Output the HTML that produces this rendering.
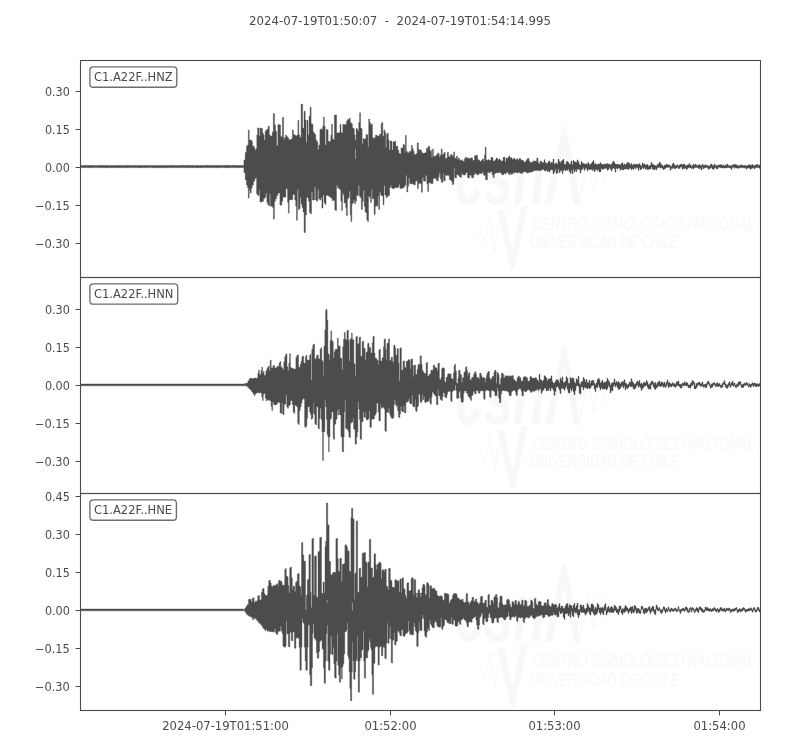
<!DOCTYPE html>
<html lang="en"><head><meta charset="utf-8"><title>C1.A22F seismogram</title>
<style>html,body{margin:0;padding:0;background:#fff}svg{display:block}text{font-family:"DejaVu Sans","Liberation Sans",sans-serif;font-size:11.6px;fill:#4a4a4a}.wm text{font-family:"Liberation Sans",sans-serif;font-style:italic;fill:#f8f8f8}.wmb{font-size:83px;font-weight:bold}.wmt{font-size:17.5px}</style></head><body>
<svg width="800" height="750" viewBox="0 0 800 750">
<rect width="800" height="750" fill="#fff"/>
<text x="400" y="24.8" text-anchor="middle" style="font-size:11.75px">2024-07-19T01:50:07  -  2024-07-19T01:54:14.995</text>
<g class="wm" transform="translate(0,0)" fill="#f8f8f8" stroke="#f8f8f8">
<text class="wmb" x="455" y="203.5" textLength="90" lengthAdjust="spacingAndGlyphs" stroke="none">csn</text>
<path d="M545 204L563 126L566 126L581 205L574 205L564.5 150L552 204Z" stroke="none"/>
<path d="M579 203L588 160L594 192L600 158L606 185" fill="none" stroke-width="1.4"/>
<path d="M477 237L481 231L485 243L490 214L495 252L500 212" fill="none" stroke-width="1.2"/>
<path d="M497 210L511 270L514 270L528 206L521 206L512.5 250L504 210Z" stroke="none"/>
<text class="wmt" x="532.5" y="229.8" textLength="222" lengthAdjust="spacingAndGlyphs" stroke="none">CENTRO SISMOLÓGICO NACIONAL</text>
<text class="wmt" x="529" y="248.2" textLength="150" lengthAdjust="spacingAndGlyphs" stroke="none">UNIVERSIDAD DE CHILE</text>
</g>
<path d="M80.5 166.6V165.6H81.5V165.4H82.5V165.5H83.5V165.4H84.5V165.6H85.5V165.4H86.5V165.4H87.5V165.5H88.5V165.5H89.5V165.3H90.5V165.6H91.5V165.3H92.5V165.5H93.5V165.6H94.5V165.5H95.5V165.5H96.5V165.5H97.5V165.5H98.5V165.4H99.5V165.4H100.5V165.3H101.5V165.6H102.5V165.4H103.5V165.3H104.5V165.4H105.5V165.5H106.5V165.3H107.5V165.5H108.5V165.6H109.5V165.4H110.5V165.6H111.5V165.4H112.5V165.5H113.5V165.5H114.5V165.5H115.5V165.5H116.5V165.6H117.5V165.3H118.5V165.5H119.5V165.5H120.5V165.4H121.5V165.4H122.5V165.5H123.5V165.4H124.5V165.5H125.5V165.3H126.5V165.4H127.5V165.3H128.5V165.4H129.5V165.4H130.5V165.6H131.5V165.4H132.5V165.5H133.5V165.5H134.5V165.4H135.5V165.4H136.5V165.6H137.5V165.5H138.5V165.4H139.5V165.4H140.5V165.5H141.5V165.4H142.5V165.6H143.5V165.4H144.5V165.6H145.5V165.5H146.5V165.6H147.5V165.6H148.5V165.4H149.5V165.5H150.5V165.6H151.5V165.5H152.5V165.6H153.5V165.5H154.5V165.4H155.5V165.6H156.5V165.6H157.5V165.6H158.5V165.4H159.5V165.5H160.5V165.4H161.5V165.5H162.5V165.5H163.5V165.5H164.5V165.6H165.5V165.3H166.5V165.5H167.5V165.5H168.5V165.4H169.5V165.5H170.5V165.3H171.5V165.4H172.5V165.4H173.5V165.4H174.5V165.4H175.5V165.5H176.5V165.5H177.5V165.5H178.5V165.6H179.5V165.5H180.5V165.5H181.5V165.3H182.5V165.5H183.5V165.3H184.5V165.5H185.5V165.4H186.5V165.3H187.5V165.3H188.5V165.5H189.5V165.5H190.5V165.6H191.5V165.3H192.5V165.4H193.5V165.4H194.5V165.5H195.5V165.4H196.5V165.3H197.5V165.6H198.5V165.6H199.5V165.6H200.5V165.4H201.5V165.5H202.5V165.4H203.5V165.4H204.5V165.6H205.5V165.3H206.5V165.3H207.5V165.5H208.5V165.4H209.5V165.4H210.5V165.6H211.5V165.6H212.5V165.3H213.5V165.6H214.5V165.5H215.5V165.6H216.5V165.5H217.5V165.3H218.5V165.5H219.5V165.6H220.5V165.6H221.5V165.3H222.5V165.4H223.5V165.5H224.5V165.3H225.5V165.3H226.5V165.5H227.5V165.3H228.5V165.4H229.5V165.5H230.5V165.5H231.5V165.6H232.5V165.3H233.5V165.4H234.5V165.3H235.5V165.5H236.5V165.5H237.5V165.3H238.5V165.5H239.5V165.4H240.5V165.5H241.5V165.5H242.5V165.4H243.9V160.0H245.2V152.5H246.4V146.2H247.4V145.0H248.3V130.0H249.2V140.0H250.4V140.0H251.5V141.2H252.4V146.2H253.4V146.0H254.3V148.8H255.1V151.0H255.8V148.8H256.8V135.0H257.6V127.9H258.4V128.1H259.2V136.2H260.1V128.1H261.3V128.5H262.4V133.1H263.3V135.0H264.1V140.0H265.1V131.2H266.1V130.0H267.1V129.0H268.2V126.0H269.3V135.0H270.2V136.2H271.3V136.0H272.2V131.9H273.3V113.5H274.5V125.0H275.5V131.2H276.7V145.6H277.9V124.4H279.2V125.0H280.5V136.2H281.4V136.9H282.4V117.5H283.6V139.4H284.6V137.5H285.6V135.0H286.5V136.5H287.5V137.5H288.5V139.5H289.5V140.0H290.5V139.5H291.4V138.8H292.4V130.0H293.4V134.4H294.3V135.0H295.2V135.6H296.2V136.0H297.1V135.0H297.9V120.2H298.8V135.0H299.8V137.5H301.1V104.1H302.6V128.1H304.0V111.2H305.2V120.0H306.1V142.5H307.0V120.2H308.0V135.0H309.0V116.2H310.1V107.2H311.1V123.8H312.1V124.4H313.0V131.9H314.0V133.8H314.9V134.4H315.8V140.0H316.8V141.9H317.8V149.4H318.8V145.0H319.9V129.4H320.9V128.8H321.8V130.0H322.7V126.2H323.5V116.9H324.3V126.2H325.1V145.0H326.2V129.4H327.2V130.0H328.1V141.2H329.0V141.9H329.9V141.2H330.8V135.0H331.6V124.1H332.4V138.8H333.3V140.0H334.4V115.0H335.5V115.0H336.6V133.1H337.9V133.1H339.0V132.5H340.0V124.4H341.0V132.5H341.9V133.1H342.8V124.4H343.9V124.4H345.2V124.8H346.5V121.2H347.4V119.4H348.4V120.0H349.3V118.1H350.2V122.5H351.3V123.8H352.4V128.1H353.4V128.8H354.3V135.0H355.1V140.0H356.1V128.5H357.1V129.4H357.9V131.2H358.7V122.5H359.6V112.8H360.5V128.1H361.4V128.8H362.1V143.8H363.0V138.5H364.0V139.4H365.0V138.8H366.0V134.4H367.0V135.0H367.9V146.9H368.7V119.0H369.6V122.5H370.5V125.0H371.5V124.0H372.4V137.5H373.4V139.0H374.4V137.5H375.5V135.0H376.5V135.6H377.5V136.2H378.5V136.0H379.5V134.0H380.4V134.4H381.1V123.8H381.9V122.5H382.8V136.2H383.9V130.0H384.9V132.5H385.7V147.5H386.5V134.4H387.4V133.1H388.3V140.0H389.1V150.0H390.1V140.9H391.1V141.2H392.0V150.0H393.0V141.9H394.0V141.5H394.9V141.2H395.8V146.2H396.8V146.0H397.8V150.0H398.8V153.5H399.8V153.8H401.0V148.1H402.1V148.1H403.1V144.4H404.0V145.0H404.8V152.5H405.4V135.4H406.3V151.2H407.2V152.5H408.2V153.1H409.2V151.5H410.2V151.2H411.4V145.2H412.4V148.8H413.3V151.2H414.1V154.4H415.0V154.4H416.1V153.8H417.2V142.9H418.4V149.4H419.4V150.0H420.5V150.0H421.5V152.5H422.5V153.5H423.6V153.1H424.6V153.1H425.6V152.5H426.4V148.1H427.2V148.8H428.1V146.0H429.1V146.9H429.9V151.2H430.8V150.6H431.6V157.5H432.5V149.1H433.4V156.2H434.4V156.5H435.5V155.6H436.5V155.0H437.4V153.1H438.3V153.5H439.2V156.9H440.2V155.0H441.2V149.1H442.2V155.0H443.2V153.8H444.2V152.5H445.2V158.8H446.2V158.1H447.3V152.2H448.4V156.2H449.4V156.9H450.5V154.4H451.5V155.0H452.5V156.2H453.6V151.9H454.6V158.1H455.5V158.5H456.5V156.0H457.5V159.4H458.5V158.1H459.5V160.0H460.5V161.0H461.5V159.8H462.5V161.2H463.5V161.2H464.5V158.5H465.5V157.2H466.5V158.5H467.5V157.8H468.5V158.8H469.5V158.5H470.5V158.1H471.5V157.8H472.5V160.6H473.5V160.0H474.5V155.6H475.5V156.0H476.5V155.0H477.5V159.4H478.5V160.0H479.5V161.2H480.5V161.5H481.5V160.0H482.5V159.0H483.5V161.2H484.4V155.0H485.2V147.2H486.1V160.0H487.0V160.6H488.0V159.8H489.0V160.0H490.0V160.6H491.0V157.2H492.0V157.8H493.0V161.2H494.0V161.0H495.0V160.0H496.0V158.1H497.0V158.5H498.0V160.6H499.0V159.0H500.0V160.0H501.0V161.5H502.0V161.0H503.0V157.5H504.0V157.2H505.0V161.9H506.0V158.1H507.0V158.8H508.0V156.9H509.0V156.2H510.0V158.1H511.0V157.8H512.0V159.4H513.0V158.8H514.0V158.5H515.0V160.0H516.0V159.4H517.0V158.8H518.0V160.6H519.0V158.5H520.0V158.8H521.0V160.6H522.0V160.0H523.0V161.2H524.0V162.2H525.0V161.9H526.0V160.6H527.0V158.8H528.0V158.5H529.0V161.2H530.0V162.5H531.0V162.8H532.0V161.9H533.0V161.2H534.1V161.0H535.4V161.2H536.8V158.1H538.0V162.8H539.0V164.0H540.0V161.0H541.0V161.8H542.0V162.6H543.0V162.8H544.0V159.7H545.0V162.4H546.0V163.5H547.0V163.3H548.0V161.7H549.0V161.1H550.0V163.2H551.0V162.6H552.0V162.4H553.0V159.0H554.0V164.3H555.0V163.6H556.0V163.1H557.0V164.5H558.0V159.3H559.0V161.5H560.0V163.0H561.0V161.1H562.0V160.7H563.0V159.3H564.0V164.3H565.0V164.6H566.0V162.0H567.0V161.4H568.0V162.7H569.0V164.5H570.0V163.8H571.0V161.1H572.0V165.0H573.0V160.6H574.0V161.9H575.0V162.0H576.0V162.6H577.0V159.9H578.0V161.7H579.0V164.6H580.0V165.1H581.0V161.4H582.0V163.3H583.0V163.4H584.0V163.9H585.0V164.2H586.0V163.7H587.0V164.2H588.0V162.5H589.0V164.5H590.0V164.4H591.0V163.6H592.0V161.9H593.0V160.6H594.0V164.3H595.0V163.5H596.0V164.6H597.0V164.6H598.0V164.0H599.0V164.0H600.0V162.8H601.0V163.9H602.0V164.5H603.0V164.8H604.0V163.9H605.0V164.0H606.0V164.2H607.0V163.5H608.0V164.3H609.0V164.1H610.0V165.3H611.0V164.2H612.0V162.8H613.0V161.1H614.0V162.8H615.0V164.1H616.0V164.6H617.0V164.1H618.0V164.8H619.0V164.5H620.0V164.8H621.0V163.6H622.0V162.8H623.0V164.9H624.0V164.1H625.0V164.7H626.0V164.0H627.0V162.2H628.0V163.0H629.0V163.2H630.0V165.0H631.0V163.6H632.0V165.2H633.0V164.3H634.0V164.4H635.0V164.3H636.0V164.2H637.0V164.2H638.0V164.8H639.0V163.7H640.0V165.2H641.0V166.2H642.0V163.0H643.0V164.3H644.0V163.9H645.0V164.9H646.0V165.1H647.0V164.5H648.0V166.2H649.0V165.8H650.0V165.1H651.0V162.6H652.0V164.3H653.0V164.5H654.0V165.5H655.0V165.5H656.0V165.9H657.0V164.2H658.0V164.4H659.0V162.2H660.0V162.9H661.0V164.7H662.0V165.5H663.0V166.4H664.0V165.3H665.0V165.0H666.0V164.1H667.0V164.9H668.0V164.8H669.0V165.1H670.0V165.9H671.0V166.4H672.0V164.1H673.0V163.1H674.0V165.0H675.0V165.6H676.0V165.5H677.0V164.7H678.0V166.2H679.0V164.9H680.0V164.4H681.0V164.0H682.0V165.0H683.0V164.1H684.0V164.2H685.0V165.5H686.0V165.5H687.0V165.1H688.0V164.7H689.0V163.6H690.0V165.1H691.0V166.2H692.0V165.5H693.0V164.3H694.0V165.6H695.0V164.1H696.0V165.3H697.0V165.4H698.0V165.0H699.0V164.7H700.0V165.5H701.0V165.8H702.0V164.3H703.0V165.2H704.0V165.4H705.0V164.7H706.0V165.3H707.0V165.5H708.0V165.9H709.0V166.2H710.0V164.5H711.0V164.1H712.0V165.3H713.0V165.8H714.0V164.1H715.0V165.4H716.0V165.5H717.0V165.6H718.0V164.9H719.0V165.1H720.0V164.8H721.0V164.7H722.0V165.8H723.0V164.9H724.0V165.9H725.0V165.2H726.0V165.0H727.0V164.0H728.0V165.4H729.0V165.7H730.0V165.7H731.0V165.6H732.0V165.2H733.0V164.6H734.0V164.4H735.0V164.4H736.0V165.0H737.0V165.2H738.0V166.1H739.0V165.7H740.0V165.0H741.0V165.1H742.0V165.2H743.0V165.6H744.0V165.5H745.0V165.2H746.0V166.1H747.0V165.8H748.0V164.7H749.0V165.1H750.0V165.0H751.0V165.2H752.0V164.5H753.0V165.5H754.0V165.7H755.0V164.9H756.0V164.9H757.0V164.3H758.0V165.5H759.0V165.1H760.5V166.6V168.3H759.0V167.7H758.0V167.5H757.0V167.4H756.0V167.7H755.0V168.9H754.0V167.7H753.0V168.1H752.0V168.8H751.0V169.1H750.0V168.2H749.0V168.0H748.0V168.0H747.0V169.2H746.0V167.4H745.0V168.1H744.0V167.8H743.0V167.6H742.0V167.9H741.0V167.2H740.0V167.9H739.0V168.3H738.0V168.1H737.0V168.1H736.0V167.6H735.0V168.2H734.0V167.1H733.0V167.5H732.0V169.5H731.0V167.9H730.0V168.0H729.0V167.6H728.0V167.7H727.0V167.8H726.0V167.9H725.0V168.1H724.0V167.7H723.0V168.1H722.0V167.9H721.0V167.5H720.0V167.3H719.0V167.2H718.0V169.1H717.0V168.4H716.0V167.6H715.0V168.2H714.0V169.2H713.0V168.9H712.0V167.5H711.0V167.9H710.0V168.8H709.0V169.2H708.0V167.7H707.0V167.6H706.0V167.5H705.0V167.9H704.0V168.8H703.0V166.9H702.0V169.9H701.0V168.2H700.0V168.5H699.0V168.3H698.0V167.6H697.0V167.5H696.0V167.4H695.0V167.8H694.0V169.0H693.0V167.8H692.0V168.4H691.0V167.9H690.0V167.2H689.0V167.7H688.0V168.7H687.0V169.5H686.0V167.7H685.0V168.7H684.0V168.2H683.0V169.2H682.0V167.0H681.0V167.1H680.0V168.5H679.0V168.4H678.0V167.3H677.0V167.9H676.0V168.6H675.0V168.6H674.0V167.8H673.0V168.4H672.0V168.6H671.0V170.3H670.0V167.3H669.0V167.3H668.0V167.4H667.0V167.4H666.0V168.2H665.0V168.9H664.0V169.7H663.0V168.2H662.0V167.7H661.0V168.1H660.0V167.0H659.0V167.5H658.0V167.8H657.0V169.8H656.0V168.8H655.0V169.7H654.0V169.6H653.0V169.0H652.0V166.9H651.0V169.0H650.0V168.9H649.0V169.6H648.0V169.6H647.0V168.5H646.0V169.2H645.0V167.2H644.0V168.5H643.0V167.6H642.0V168.9H641.0V169.7H640.0V167.7H639.0V170.3H638.0V167.8H637.0V167.4H636.0V168.8H635.0V167.6H634.0V169.3H633.0V168.7H632.0V169.7H631.0V168.1H630.0V168.6H629.0V169.3H628.0V169.2H627.0V168.8H626.0V168.9H625.0V169.0H624.0V169.9H623.0V169.7H622.0V168.9H621.0V170.3H620.0V168.3H619.0V168.1H618.0V168.9H617.0V168.0H616.0V172.0H615.0V168.5H614.0V168.0H613.0V168.8H612.0V170.9H611.0V168.7H610.0V167.8H609.0V169.4H608.0V170.2H607.0V168.2H606.0V168.5H605.0V168.2H604.0V169.2H603.0V169.2H602.0V168.2H601.0V171.8H600.0V171.9H599.0V169.6H598.0V170.6H597.0V168.9H596.0V170.3H595.0V171.4H594.0V169.0H593.0V170.4H592.0V169.2H591.0V169.6H590.0V169.6H589.0V169.2H588.0V170.8H587.0V168.3H586.0V168.4H585.0V170.3H584.0V167.8H583.0V169.2H582.0V169.7H581.0V173.0H580.0V169.4H579.0V169.3H578.0V169.0H577.0V171.6H576.0V170.1H575.0V172.1H574.0V169.5H573.0V173.7H572.0V170.2H571.0V173.3H570.0V171.6H569.0V168.9H568.0V170.4H567.0V169.5H566.0V171.0H565.0V169.6H564.0V170.4H563.0V173.5H562.0V170.2H561.0V171.0H560.0V172.6H559.0V169.0H558.0V172.8H557.0V173.6H556.0V169.1H555.0V172.1H554.0V173.8H553.0V170.1H552.0V169.5H551.0V170.3H550.0V172.1H549.0V170.5H548.0V171.6H547.0V169.7H546.0V171.0H545.0V170.5H544.0V169.3H543.0V169.5H542.0V169.9H541.0V170.5H540.0V170.8H539.0V170.5H538.0V170.2H536.8V170.6H535.4V170.6H534.2V171.0H533.2V171.2H532.2V171.9H531.2V172.2H530.2V171.9H529.2V172.5H528.2V173.1H527.2V172.5H526.2V171.9H525.2V171.2H524.2V171.9H523.2V172.5H522.2V173.8H521.2V173.1H520.2V172.5H519.2V171.9H518.2V173.1H517.2V172.5H516.2V171.9H515.2V173.1H514.2V172.5H513.2V173.8H512.2V174.4H511.2V173.1H510.2V174.8H509.2V173.8H508.2V171.9H507.2V172.5H506.2V173.8H505.2V173.1H504.2V174.4H503.2V175.0H502.2V173.8H501.2V173.1H500.2V171.9H499.2V172.5H498.2V173.1H497.2V172.5H496.2V173.1H495.2V173.8H494.2V177.8H493.2V175.0H492.2V171.9H491.2V171.2H490.2V173.1H489.2V171.9H488.3V172.5H487.4V180.0H486.5V179.4H485.5V175.6H484.5V175.0H483.5V172.5H482.5V173.1H481.5V173.8H480.5V173.1H479.5V173.8H478.5V174.8H477.5V174.4H476.5V173.8H475.5V173.1H474.5V175.0H473.5V178.1H472.5V177.5H471.5V175.2H470.5V175.0H469.5V178.1H468.5V177.5H467.5V172.5H466.5V173.1H465.5V175.0H464.5V175.0H463.5V174.4H462.5V173.8H461.5V177.2H460.5V176.9H459.5V175.6H458.5V174.8H457.5V174.4H456.5V178.1H455.5V177.5H454.6V168.1H453.9V183.8H453.2V184.8H452.3V181.2H451.2V180.0H450.2V179.4H449.3V175.6H448.4V175.0H447.3V175.6H446.2V175.0H445.2V181.0H444.4V180.6H443.6V173.1H442.9V182.5H442.1V181.9H441.2V178.8H440.2V173.1H439.2V176.9H438.3V181.0H437.4V180.6H436.5V178.8H435.4V178.1H434.1V178.8H433.0V183.5H432.1V183.8H431.0V182.5H429.8V183.1H428.6V191.5H427.7V183.8H426.8V175.6H425.6V181.2H424.4V181.2H423.4V177.5H422.4V192.2H421.4V183.8H420.5V183.1H419.4V183.8H418.4V188.5H417.4V180.6H416.5V181.2H415.4V184.8H414.1V184.4H412.9V183.5H411.6V183.8H410.5V183.8H409.6V178.1H408.7V186.2H407.8V191.9H406.8V175.6H405.9V185.0H404.8V186.9H403.5V188.1H402.2V188.5H401.0V188.5H399.9V184.4H398.9V187.2H397.6V187.8H396.4V187.2H395.1V188.1H393.9V188.8H392.6V188.1H391.5V185.6H390.5V187.5H389.6V195.6H388.5V196.2H387.2V197.5H386.0V195.0H384.9V185.6H384.0V204.8H383.1V196.2H382.4V195.6H381.5V195.0H380.6V191.9H379.6V209.4H378.7V196.2H377.9V206.2H377.1V205.6H376.2V206.2H375.2V214.4H374.1V198.8H373.1V198.8H372.2V189.4H371.4V202.5H370.5V197.5H369.5V196.2H368.5V221.5H367.6V220.0H366.8V212.5H365.9V212.2H365.1V206.2H364.2V190.6H363.3V201.2H362.4V209.4H361.3V197.5H360.2V196.2H359.3V185.6H358.4V195.6H357.5V195.0H356.5V201.2H355.5V203.8H354.6V200.0H353.7V202.5H352.8V203.8H351.8V221.5H350.9V215.0H350.2V191.2H349.3V197.5H348.4V198.8H347.4V215.6H346.4V207.5H345.7V202.5H344.9V203.1H344.1V195.0H343.3V193.1H342.4V210.6H341.6V201.2H340.8V189.4H339.8V188.8H338.5V187.5H337.4V185.0H336.5V210.6H335.7V210.0H334.8V200.6H333.5V200.6H332.2V198.1H331.0V197.2H329.8V196.2H328.5V195.0H327.2V195.6H326.0V204.4H325.0V202.5H324.0V195.0H323.0V208.1H321.9V197.5H320.9V200.0H319.8V198.8H318.7V189.4H317.8V201.2H316.6V200.0H315.6V186.9H314.6V200.0H313.5V200.0H312.4V191.9H311.5V213.8H310.5V212.5H309.4V201.2H308.4V197.5H307.4V197.5H306.5V215.0H305.4V232.5H304.1V211.9H303.0V207.5H302.0V203.8H301.0V197.5H300.1V208.8H299.2V209.4H298.3V189.4H297.4V220.2H296.5V206.2H295.7V200.0H294.8V194.4H293.8V194.4H292.8V199.8H291.6V199.4H290.4V200.0H289.2V213.1H288.4V202.5H287.6V188.8H286.8V188.8H285.9V196.9H284.8V197.2H283.8V196.9H282.8V201.2H281.8V205.2H280.8V205.0H279.9V193.1H279.0V193.1H277.9V195.6H276.6V198.8H275.5V201.2H274.4V219.0H273.4V207.5H272.5V206.2H271.4V206.2H270.4V193.8H269.6V205.6H268.8V205.0H267.8V202.5H266.8V193.1H265.9V196.9H264.8V198.8H263.5V201.2H262.2V201.9H261.0V201.9H259.9V190.0H259.2V195.6H258.4V195.0H257.5V193.8H256.6V177.5H255.8V178.5H254.8V181.2H253.5V185.0H252.2V188.1H251.2V193.1H250.2V190.0H249.2V198.1H248.3V187.5H247.4V185.0H246.4V180.0H245.2V172.5H243.9V167.5H242.5V167.5H241.5V167.5H240.5V167.7H239.5V167.7H238.5V167.6H237.5V167.7H236.5V167.6H235.5V167.6H234.5V167.7H233.5V167.6H232.5V167.6H231.5V167.6H230.5V167.7H229.5V167.7H228.5V167.7H227.5V167.7H226.5V167.5H225.5V167.8H224.5V167.5H223.5V167.6H222.5V167.6H221.5V167.5H220.5V167.7H219.5V167.6H218.5V167.6H217.5V167.8H216.5V167.8H215.5V167.7H214.5V167.5H213.5V167.6H212.5V167.6H211.5V167.8H210.5V167.5H209.5V167.5H208.5V167.7H207.5V167.6H206.5V167.7H205.5V167.6H204.5V167.6H203.5V167.6H202.5V167.7H201.5V167.7H200.5V167.7H199.5V167.5H198.5V167.7H197.5V167.8H196.5V167.7H195.5V167.6H194.5V167.6H193.5V167.7H192.5V167.6H191.5V167.5H190.5V167.7H189.5V167.8H188.5V167.7H187.5V167.6H186.5V167.7H185.5V167.6H184.5V167.7H183.5V167.6H182.5V167.5H181.5V167.7H180.5V167.6H179.5V167.7H178.5V167.6H177.5V167.7H176.5V167.6H175.5V167.6H174.5V167.8H173.5V167.5H172.5V167.8H171.5V167.5H170.5V167.5H169.5V167.6H168.5V167.8H167.5V167.7H166.5V167.7H165.5V167.6H164.5V167.7H163.5V167.7H162.5V167.7H161.5V167.6H160.5V167.8H159.5V167.7H158.5V167.7H157.5V167.7H156.5V167.5H155.5V167.7H154.5V167.6H153.5V167.8H152.5V167.6H151.5V167.6H150.5V167.6H149.5V167.6H148.5V167.6H147.5V167.7H146.5V167.5H145.5V167.7H144.5V167.6H143.5V167.5H142.5V167.5H141.5V167.7H140.5V167.7H139.5V167.7H138.5V167.7H137.5V167.6H136.5V167.6H135.5V167.7H134.5V167.6H133.5V167.6H132.5V167.6H131.5V167.7H130.5V167.6H129.5V167.6H128.5V167.7H127.5V167.7H126.5V167.5H125.5V167.7H124.5V167.6H123.5V167.8H122.5V167.6H121.5V167.7H120.5V167.8H119.5V167.5H118.5V167.7H117.5V167.7H116.5V167.5H115.5V167.6H114.5V167.7H113.5V167.6H112.5V167.7H111.5V167.7H110.5V167.6H109.5V167.6H108.5V167.7H107.5V167.7H106.5V167.7H105.5V167.7H104.5V167.6H103.5V167.7H102.5V167.6H101.5V167.7H100.5V167.6H99.5V167.7H98.5V167.5H97.5V167.6H96.5V167.6H95.5V167.6H94.5V167.6H93.5V167.6H92.5V167.6H91.5V167.7H90.5V167.5H89.5V167.8H88.5V167.7H87.5V167.5H86.5V167.6H85.5V167.5H84.5V167.7H83.5V167.6H82.5V167.6H81.5V167.7H80.5Z" fill="#4c4c4c" stroke="#4c4c4c" stroke-width="0.4" stroke-linejoin="round"/>
<line x1="75.6" x2="80.5" y1="91.5" y2="91.5" stroke="#4a4a4a" stroke-width="1"/>
<text x="69.9" y="96.0" text-anchor="end" textLength="25" lengthAdjust="spacingAndGlyphs">0.30</text>
<line x1="75.6" x2="80.5" y1="129.5" y2="129.5" stroke="#4a4a4a" stroke-width="1"/>
<text x="69.9" y="134.0" text-anchor="end" textLength="25" lengthAdjust="spacingAndGlyphs">0.15</text>
<line x1="75.6" x2="80.5" y1="167.5" y2="167.5" stroke="#4a4a4a" stroke-width="1"/>
<text x="69.9" y="172.0" text-anchor="end" textLength="25" lengthAdjust="spacingAndGlyphs">0.00</text>
<line x1="75.6" x2="80.5" y1="205.5" y2="205.5" stroke="#4a4a4a" stroke-width="1"/>
<text x="69.9" y="210.0" text-anchor="end" textLength="35" lengthAdjust="spacingAndGlyphs">−0.15</text>
<line x1="75.6" x2="80.5" y1="243.5" y2="243.5" stroke="#4a4a4a" stroke-width="1"/>
<text x="69.9" y="248.0" text-anchor="end" textLength="35" lengthAdjust="spacingAndGlyphs">−0.30</text>
<rect x="89.9" y="66.8" width="86.9" height="20.4" rx="3.3" fill="#fff" stroke="#6e6e6e" stroke-width="1.35"/>
<text x="94.0" y="81.1" style="font-size:11.5px">C1.A22F..HNZ</text>
<g class="wm" transform="translate(0,220)" fill="#f8f8f8" stroke="#f8f8f8">
<text class="wmb" x="455" y="203.5" textLength="90" lengthAdjust="spacingAndGlyphs" stroke="none">csn</text>
<path d="M545 204L563 126L566 126L581 205L574 205L564.5 150L552 204Z" stroke="none"/>
<path d="M579 203L588 160L594 192L600 158L606 185" fill="none" stroke-width="1.4"/>
<path d="M477 237L481 231L485 243L490 214L495 252L500 212" fill="none" stroke-width="1.2"/>
<path d="M497 210L511 270L514 270L528 206L521 206L512.5 250L504 210Z" stroke="none"/>
<text class="wmt" x="532.5" y="229.8" textLength="222" lengthAdjust="spacingAndGlyphs" stroke="none">CENTRO SISMOLÓGICO NACIONAL</text>
<text class="wmt" x="529" y="248.2" textLength="150" lengthAdjust="spacingAndGlyphs" stroke="none">UNIVERSIDAD DE CHILE</text>
</g>
<path d="M80.5 384.9V384.0H81.5V384.0H82.5V384.0H83.5V384.0H84.5V384.0H85.5V384.0H86.5V384.0H87.5V384.0H88.5V384.0H89.5V384.0H90.5V384.0H91.5V384.0H92.5V384.0H93.5V384.0H94.5V384.0H95.5V384.0H96.5V384.0H97.5V384.0H98.5V384.0H99.5V384.0H100.5V384.0H101.5V384.0H102.5V384.0H103.5V384.0H104.5V384.0H105.5V384.0H106.5V384.0H107.5V384.0H108.5V384.0H109.5V384.0H110.5V384.0H111.5V384.0H112.5V384.0H113.5V384.0H114.5V384.0H115.5V384.0H116.5V384.0H117.5V384.0H118.5V384.0H119.5V384.0H120.5V384.0H121.5V384.0H122.5V384.0H123.5V384.0H124.5V384.0H125.5V384.0H126.5V384.0H127.5V384.0H128.5V384.0H129.5V384.0H130.5V384.0H131.5V384.0H132.5V384.0H133.5V384.0H134.5V384.0H135.5V384.0H136.5V384.0H137.5V384.0H138.5V384.0H139.5V384.0H140.5V384.0H141.5V384.0H142.5V384.0H143.5V384.0H144.5V384.0H145.5V384.0H146.5V384.0H147.5V384.0H148.5V384.0H149.5V384.0H150.5V384.0H151.5V384.0H152.5V384.0H153.5V384.0H154.5V384.0H155.5V384.0H156.5V384.0H157.5V384.0H158.5V384.0H159.5V384.0H160.5V384.0H161.5V384.0H162.5V384.0H163.5V384.0H164.5V384.0H165.5V384.0H166.5V384.0H167.5V384.0H168.5V384.0H169.5V384.0H170.5V384.0H171.5V384.0H172.5V384.0H173.5V384.0H174.5V384.0H175.5V384.0H176.5V384.0H177.5V384.0H178.5V384.0H179.5V384.0H180.5V384.0H181.5V384.0H182.5V384.0H183.5V384.0H184.5V384.0H185.5V384.0H186.5V384.0H187.5V384.0H188.5V384.0H189.5V384.0H190.5V384.0H191.5V384.0H192.5V384.0H193.5V384.0H194.5V384.0H195.5V384.0H196.5V384.0H197.5V384.0H198.5V384.0H199.5V384.0H200.5V384.0H201.5V384.0H202.5V384.0H203.5V384.0H204.5V384.0H205.5V384.0H206.5V384.0H207.5V384.0H208.5V384.0H209.5V384.0H210.5V384.0H211.5V384.0H212.5V384.0H213.5V384.0H214.5V384.0H215.5V384.0H216.5V384.0H217.5V384.0H218.5V384.0H219.5V384.0H220.5V384.0H221.5V384.0H222.5V384.0H223.5V384.0H224.5V384.0H225.5V384.0H226.5V384.0H227.5V384.0H228.5V384.0H229.5V384.0H230.5V384.0H231.5V384.0H232.5V384.0H233.5V384.0H234.5V384.0H235.5V384.0H236.5V384.0H237.5V384.0H238.5V384.0H239.5V384.0H240.5V384.0H241.5V384.0H242.5V384.0H244.5V383.4H246.6V383.0H247.9V381.1H249.0V379.2H250.0V378.2H251.1V378.6H252.2V378.6H253.5V378.2H254.8V378.0H256.0V378.4H257.1V378.0H257.9V373.0H258.6V370.2H259.4V374.9H260.2V374.2H261.0V370.5H261.8V367.1H262.5V373.0H263.3V371.5H264.1V375.5H265.0V374.9H265.9V371.1H266.8V368.6H267.8V366.8H268.6V366.1H269.3V371.1H270.2V360.2H271.2V368.0H272.1V368.2H272.9V366.1H273.6V365.2H274.4V367.4H275.3V368.0H276.2V367.8H277.2V366.1H278.2V366.5H279.1V363.0H279.9V361.4H280.8V366.8H281.8V368.0H282.8V369.9H283.8V361.8H284.7V356.8H285.6V354.2H286.3V354.0H287.0V366.8H287.9V370.5H288.8V363.0H289.6V353.6H290.4V367.4H291.2V368.0H292.3V368.6H293.5V369.0H294.8V369.0H295.9V357.4H296.8V355.2H297.7V354.9H298.5V366.8H299.3V367.4H300.2V364.2H301.1V361.1H301.9V356.8H302.8V356.1H303.7V363.0H304.6V363.6H305.4V356.8H306.1V355.2H306.9V359.9H307.8V360.2H308.8V359.9H309.6V355.5H310.3V354.2H311.0V379.9H311.8V349.2H312.8V344.9H313.7V344.0H314.6V358.6H315.5V359.2H316.5V355.5H317.4V354.9H318.3V358.6H319.2V359.2H320.1V349.2H320.9V347.8H321.8V360.5H322.7V361.8H323.3V375.5H323.9V346.1H324.8V329.9H325.6V310.5H326.3V309.2H327.1V319.9H327.9V353.6H328.7V354.9H329.4V360.5H330.1V340.5H330.8V330.8H331.6V340.5H332.4V341.8H333.3V358.0H334.2V351.8H335.1V349.2H335.8V349.5H336.5V349.2H337.4V338.2H338.3V346.1H339.2V346.1H340.2V358.0H341.2V358.6H341.9V369.9H342.7V346.8H343.5V339.2H344.3V332.4H345.2V339.2H346.1V339.9H346.9V330.8H347.6V330.1H348.4V340.5H349.1V361.1H349.9V339.2H350.8V338.6H351.5V333.0H352.3V339.5H353.1V339.9H353.9V363.6H354.6V364.2H355.2V376.1H355.9V336.8H356.6V336.4H357.4V344.2H358.3V343.6H359.1V337.4H359.9V337.0H360.6V356.1H361.4V356.8H362.1V341.8H362.9V341.1H363.7V348.0H364.5V348.6H365.2V359.9H366.0V352.4H366.8V351.8H367.6V343.6H368.4V343.2H369.1V347.4H369.9V347.8H370.8V353.0H371.5V353.0H372.2V343.0H372.9V336.8H373.6V336.1H374.2V353.0H375.0V358.0H375.8V358.6H376.8V359.9H377.6V360.5H378.3V364.9H378.9V349.9H379.6V349.2H380.4V361.1H381.2V361.1H382.0V358.0H382.8V357.4H383.4V346.8H384.1V339.2H384.8V338.9H385.5V349.2H386.2V359.9H386.9V343.6H387.6V343.0H388.4V339.2H389.0V338.9H389.6V360.5H390.4V360.8H391.1V357.4H391.7V357.1H392.4V361.8H393.1V362.4H393.7V345.5H394.3V345.1H395.0V348.0H395.7V354.9H396.4V355.5H397.1V349.0H397.7V348.6H398.4V363.0H399.1V381.1H399.9V348.2H400.6V347.8H401.4V369.9H402.2V370.2H403.0V361.1H403.8V360.9H404.6V367.4H405.4V367.4H406.2V361.5H407.1V361.1H407.9V359.9H408.7V359.5H409.4V360.5H410.1V369.0H410.9V359.2H411.8V358.9H412.6V365.5H413.2V376.8H413.9V365.5H414.8V365.1H415.6V374.2H416.4V374.5H417.1V369.2H417.9V364.9H418.6V364.2H419.4V364.5H420.1V356.1H420.7V355.8H421.4V364.2H422.1V369.9H422.9V371.8H423.7V373.0H424.6V373.6H425.4V374.2H426.1V363.0H426.9V362.6H427.6V376.1H428.4V376.8H429.1V374.2H429.9V374.0H430.8V370.5H431.6V369.9H432.4V370.5H433.2V365.5H434.0V365.1H434.8V367.4H435.6V367.8H436.4V368.0H437.1V371.1H437.9V363.6H438.6V363.0H439.4V379.2H440.1V379.9H440.9V377.4H441.6V368.6H442.4V368.0H443.1V367.8H443.9V368.6H444.6V381.8H445.4V382.4H446.1V377.4H446.9V376.8H447.6V374.2H448.4V373.6H449.2V373.9H450.2V374.2H451.1V378.6H451.9V379.0H452.6V379.2H453.4V373.0H454.1V365.5H454.9V364.2H455.6V371.1H456.4V383.0H457.1V383.6H457.9V378.0H458.6V370.5H459.4V370.2H460.1V374.2H460.9V374.9H461.6V382.4H462.4V378.0H463.1V377.4H463.9V372.4H464.6V371.8H465.4V367.4H466.1V366.8H466.9V370.5H467.6V375.5H468.4V373.0H469.1V372.8H469.9V379.9H470.6V380.2H471.4V378.0H472.1V377.4H472.9V377.0H473.6V374.2H474.4V372.4H475.1V371.8H475.9V374.2H476.6V377.4H477.4V378.0H478.1V377.8H478.9V379.2H479.6V373.6H480.4V373.0H481.1V375.5H481.9V377.4H482.6V377.8H483.4V377.4H484.1V378.0H484.9V382.4H485.6V378.6H486.4V375.5H487.1V373.0H487.9V371.8H488.6V371.5H489.4V378.0H490.1V379.2H490.9V379.9H491.6V378.0H492.4V376.1H493.1V376.8H493.9V372.4H494.6V370.5H495.4V370.2H496.1V383.6H496.9V372.4H497.6V373.0H498.4V374.9H499.1V384.2H499.9V384.5H500.6V378.0H501.4V373.6H502.1V373.0H502.9V374.2H503.6V378.0H504.4V377.4H505.1V375.5H505.9V376.1H506.6V376.5H507.4V375.8H508.1V376.1H508.9V376.8H509.6V375.8H510.4V376.5H511.1V376.1H511.9V375.5H512.6V375.8H513.4V379.2H514.1V379.9H514.9V380.8H515.6V381.5H516.4V381.8H517.1V378.0H517.9V376.5H518.6V376.1H519.4V378.0H520.1V377.8H520.9V380.8H521.6V381.5H522.4V381.1H523.1V377.4H523.9V376.8H524.6V376.5H525.4V377.0H526.1V377.4H526.9V378.0H527.6V381.1H528.4V381.5H529.1V380.8H529.9V376.8H530.6V376.5H531.4V377.8H532.1V378.2H532.9V378.0H533.6V378.6H534.4V378.0H535.1V377.8H535.8V378.0H536.8V380.1H538.0V381.8H539.0V374.3H540.0V379.5H541.0V380.2H542.0V381.3H543.0V380.3H544.0V375.7H545.0V376.6H546.0V378.0H547.0V380.8H548.0V379.2H549.0V378.8H550.0V378.6H551.0V375.9H552.0V381.4H553.0V383.1H554.0V383.1H555.0V381.4H556.0V379.7H557.0V379.8H558.0V380.7H559.0V383.0H560.0V378.1H561.0V380.0H562.0V377.1H563.0V382.5H564.0V382.4H565.0V381.2H566.0V376.8H567.0V378.5H568.0V383.3H569.0V383.2H570.0V377.7H571.0V378.6H572.0V377.9H573.0V378.3H574.0V382.0H575.0V383.5H576.0V378.8H577.0V380.0H578.0V376.3H579.0V383.4H580.0V384.7H581.0V381.8H582.0V381.5H583.0V377.5H584.0V379.2H585.0V382.0H586.0V379.6H587.0V382.6H588.0V382.8H589.0V380.2H590.0V383.4H591.0V380.9H592.0V380.5H593.0V380.3H594.0V383.2H595.0V384.7H596.0V383.1H597.0V379.8H598.0V378.3H599.0V379.6H600.0V383.1H601.0V382.0H602.0V380.3H603.0V383.1H604.0V382.3H605.0V382.2H606.0V381.3H607.0V378.2H608.0V380.6H609.0V382.3H610.0V385.3H611.0V383.4H612.0V382.8H613.0V382.4H614.0V378.9H615.0V383.1H616.0V381.6H617.0V382.5H618.0V381.5H619.0V382.9H620.0V384.1H621.0V382.2H622.0V381.7H623.0V381.8H624.0V379.8H625.0V382.9H626.0V383.8H627.0V385.1H628.0V384.2H629.0V382.1H630.0V382.3H631.0V378.7H632.0V381.5H633.0V383.1H634.0V384.2H635.0V384.0H636.0V382.4H637.0V380.9H638.0V382.2H639.0V380.5H640.0V384.0H641.0V383.2H642.0V384.2H643.0V382.6H644.0V382.5H645.0V382.9H646.0V380.5H647.0V382.1H648.0V384.6H649.0V384.6H650.0V383.0H651.0V381.4H652.0V381.1H653.0V382.8H654.0V383.5H655.0V382.4H656.0V384.7H657.0V382.9H658.0V381.7H659.0V381.0H660.0V383.6H661.0V382.0H662.0V382.3H663.0V383.5H664.0V382.1H665.0V384.4H666.0V382.5H667.0V379.9H668.0V383.1H669.0V382.4H670.0V383.7H671.0V384.1H672.0V382.7H673.0V383.4H674.0V383.7H675.0V384.4H676.0V382.0H677.0V381.7H678.0V380.9H679.0V384.1H680.0V384.3H681.0V384.2H682.0V383.1H683.0V383.6H684.0V381.7H685.0V382.9H686.0V382.4H687.0V383.1H688.0V384.9H689.0V385.1H690.0V383.7H691.0V382.4H692.0V380.5H693.0V381.5H694.0V382.7H695.0V385.9H696.0V383.6H697.0V382.9H698.0V382.6H699.0V382.0H700.0V383.7H701.0V383.6H702.0V382.1H703.0V384.7H704.0V384.5H705.0V384.1H706.0V383.7H707.0V381.8H708.0V381.1H709.0V383.3H710.0V385.6H711.0V384.1H712.0V383.6H713.0V382.9H714.0V382.4H715.0V384.5H716.0V383.2H717.0V382.7H718.0V384.0H719.0V383.4H720.0V385.0H721.0V385.2H722.0V383.6H723.0V382.3H724.0V380.7H725.0V383.8H726.0V384.8H727.0V384.9H728.0V383.3H729.0V381.7H730.0V384.3H731.0V382.7H732.0V381.2H733.0V383.2H734.0V383.1H735.0V385.1H736.0V384.7H737.0V383.8H738.0V382.1H739.0V381.7H740.0V381.7H741.0V384.7H742.0V384.4H743.0V384.0H744.0V383.0H745.0V383.4H746.0V382.6H747.0V382.9H748.0V384.7H749.0V383.7H750.0V384.5H751.0V384.0H752.0V382.8H753.0V383.4H754.0V383.1H755.0V383.2H756.0V383.9H757.0V383.8H758.0V384.3H759.0V383.5H760.5V384.9V385.9H759.0V386.5H758.0V386.1H757.0V386.7H756.0V386.4H755.0V385.3H754.0V386.7H753.0V385.0H752.0V386.2H751.0V387.6H750.0V385.9H749.0V387.1H748.0V385.1H747.0V384.8H746.0V385.6H745.0V385.3H744.0V387.2H743.0V387.5H742.0V387.4H741.0V384.9H740.0V384.2H739.0V386.3H738.0V386.2H737.0V387.5H736.0V387.3H735.0V385.6H734.0V386.3H733.0V385.2H732.0V385.3H731.0V387.3H730.0V385.2H729.0V386.6H728.0V388.2H727.0V388.2H726.0V386.7H725.0V384.4H724.0V384.5H723.0V387.2H722.0V387.8H721.0V387.2H720.0V386.1H719.0V386.4H718.0V386.6H717.0V385.9H716.0V386.7H715.0V384.7H714.0V385.1H713.0V387.1H712.0V387.5H711.0V388.2H710.0V385.7H709.0V384.0H708.0V384.6H707.0V387.4H706.0V387.6H705.0V386.7H704.0V387.2H703.0V386.1H702.0V386.0H701.0V386.4H700.0V384.9H699.0V384.8H698.0V386.1H697.0V387.7H696.0V388.9H695.0V388.4H694.0V383.8H693.0V385.4H692.0V385.5H691.0V388.1H690.0V387.4H689.0V387.7H688.0V385.8H687.0V386.0H686.0V385.6H685.0V385.0H684.0V386.0H683.0V385.5H682.0V388.0H681.0V388.1H680.0V386.5H679.0V385.7H678.0V385.5H677.0V385.9H676.0V387.4H675.0V386.8H674.0V386.1H673.0V385.4H672.0V386.9H671.0V386.6H670.0V386.4H669.0V387.8H668.0V384.4H667.0V385.7H666.0V387.6H665.0V386.6H664.0V387.2H663.0V385.7H662.0V386.0H661.0V386.7H660.0V386.2H659.0V385.4H658.0V387.1H657.0V387.8H656.0V389.6H655.0V388.6H654.0V386.9H653.0V383.9H652.0V384.9H651.0V389.2H650.0V388.8H649.0V389.0H648.0V387.1H647.0V385.0H646.0V385.9H645.0V386.0H644.0V387.7H643.0V388.4H642.0V390.6H641.0V387.6H640.0V386.0H639.0V387.3H638.0V384.7H637.0V385.9H636.0V388.1H635.0V389.2H634.0V388.8H633.0V386.6H632.0V386.6H631.0V386.8H630.0V385.4H629.0V387.5H628.0V388.4H627.0V387.7H626.0V389.9H625.0V385.9H624.0V388.0H623.0V385.7H622.0V386.5H621.0V388.2H620.0V389.1H619.0V389.6H618.0V387.4H617.0V385.3H616.0V387.0H615.0V384.7H614.0V386.3H613.0V390.9H612.0V390.4H611.0V392.9H610.0V386.9H609.0V385.4H608.0V388.4H607.0V389.9H606.0V388.3H605.0V389.1H604.0V388.9H603.0V388.8H602.0V387.7H601.0V389.7H600.0V387.3H599.0V384.8H598.0V387.4H597.0V387.4H596.0V391.6H595.0V389.1H594.0V384.9H593.0V385.4H592.0V386.0H591.0V388.0H590.0V388.6H589.0V387.7H588.0V388.9H587.0V387.7H586.0V387.9H585.0V387.0H584.0V389.8H583.0V387.1H582.0V386.7H581.0V394.1H580.0V392.9H579.0V386.2H578.0V385.6H577.0V386.2H576.0V390.5H575.0V394.8H574.0V391.8H573.0V388.3H572.0V390.8H571.0V388.6H570.0V393.0H569.0V392.7H568.0V389.2H567.0V385.8H566.0V387.8H565.0V390.4H564.0V388.5H563.0V388.2H562.0V388.6H561.0V393.4H560.0V390.0H559.0V387.7H558.0V386.2H557.0V386.9H556.0V391.5H555.0V395.3H554.0V390.5H553.0V388.3H552.0V388.1H551.0V390.9H550.0V388.1H549.0V390.2H548.0V390.5H547.0V390.9H546.0V388.1H545.0V388.2H544.0V390.0H543.0V391.2H542.0V393.3H541.0V388.9H540.0V388.9H539.0V390.8H538.0V388.9H536.8V390.2H535.5V390.5H534.6V391.5H533.9V391.1H533.1V390.5H532.4V391.8H531.6V392.4H530.9V391.8H530.1V390.5H529.4V389.9H528.6V389.2H527.9V389.9H527.1V391.1H526.4V392.0H525.6V391.8H524.9V390.5H524.1V391.1H523.4V396.1H522.6V395.5H521.9V391.1H521.1V388.6H520.4V389.0H519.6V388.6H518.9V389.2H518.1V390.5H517.4V395.5H516.6V394.9H515.9V391.8H515.1V389.9H514.4V390.2H513.6V390.5H512.9V391.1H512.1V391.8H511.4V395.2H510.6V396.1H509.9V395.5H509.1V392.4H508.4V391.8H507.6V391.1H506.9V390.5H506.1V391.1H505.4V390.5H504.6V390.8H503.9V390.2H503.1V390.5H502.4V391.1H501.6V394.2H500.9V402.8H500.1V402.4H499.4V398.0H498.6V391.1H497.9V388.0H497.1V395.5H496.4V396.1H495.6V395.5H494.9V391.8H494.1V391.1H493.4V390.5H492.6V389.9H491.9V390.5H491.1V397.4H490.4V396.8H489.6V391.1H488.9V390.5H488.1V389.9H487.4V390.2H486.6V389.9H485.9V391.1H485.1V399.5H484.4V398.6H483.6V391.1H482.9V390.5H482.1V391.1H481.4V390.5H480.6V391.1H479.9V393.2H479.1V393.0H478.4V391.1H477.6V389.9H476.9V390.5H476.1V394.0H475.4V393.6H474.6V391.1H473.9V391.8H473.1V394.9H472.4V395.5H471.6V400.5H470.9V399.2H470.1V397.4H469.4V396.8H468.6V396.1H467.9V393.6H467.1V393.0H466.4V391.1H465.6V390.5H464.9V391.1H464.1V393.0H463.4V401.8H462.6V402.4H461.9V401.8H461.1V398.0H460.4V391.1H459.6V391.8H458.9V398.0H458.1V398.6H457.4V398.0H456.6V390.5H455.9V385.5H455.1V390.2H454.4V389.9H453.6V390.5H452.9V391.8H452.1V401.8H451.4V400.5H450.6V391.1H449.9V391.5H449.1V391.1H448.4V391.8H447.6V394.2H446.9V397.8H446.1V397.4H445.4V396.8H444.6V393.0H443.9V392.4H443.1V396.8H442.4V400.5H441.6V399.9H440.9V399.2H440.1V396.1H439.4V395.5H438.6V389.2H437.9V404.9H437.1V404.2H436.4V396.0H435.8V395.8H435.1V395.1H434.4V393.9H433.6V392.6H432.9V392.0H432.1V397.0H431.4V404.2H430.6V403.2H429.9V398.2H429.1V400.8H428.4V401.4H427.6V401.4H426.9V402.0H426.1V402.6H425.4V402.0H424.6V396.4H423.9V399.5H423.1V394.5H422.4V400.8H421.6V402.6H420.9V402.0H420.1V394.2H419.4V394.5H418.6V405.8H417.9V407.0H417.1V411.6H416.4V410.8H415.6V399.5H414.9V407.0H414.1V406.8H413.4V405.8H412.6V395.1H411.9V403.2H411.1V403.9H410.4V403.2H409.6V398.2H408.9V400.8H408.1V401.8H407.4V402.0H406.6V402.6H405.9V413.0H405.1V412.6H404.4V405.8H403.6V412.0H402.9V411.4H402.1V410.8H401.4V406.4H400.6V413.9H399.9V417.6H399.1V417.0H398.4V410.8H397.6V405.1H396.9V406.4H396.1V404.5H395.4V400.1H394.6V404.5H393.9V417.6H393.1V418.5H392.4V418.2H391.6V417.6H390.9V415.8H390.1V413.2H389.4V408.2H388.6V412.6H387.9V412.0H387.1V412.6H386.4V431.4H385.6V430.8H384.9V408.9H384.1V407.6H383.4V407.0H382.6V407.6H381.9V408.2H381.1V404.5H380.4V421.0H379.6V420.8H378.9V412.0H378.1V403.0H377.4V403.2H376.6V412.6H375.9V414.5H375.1V415.8H374.4V418.9H373.6V419.2H372.9V418.9H372.1V419.5H371.4V427.6H370.6V427.0H369.9V410.8H369.1V418.2H368.4V419.5H367.6V420.1H366.9V419.5H366.1V412.6H365.4V417.6H364.6V417.0H363.9V411.4H363.1V421.4H362.4V422.0H361.6V439.5H360.9V438.9H360.1V419.5H359.4V408.9H358.6V401.4H357.9V432.0H357.2V437.0H356.5V444.2H355.8V443.9H355.1V429.5H354.4V428.9H353.6V418.2H352.9V422.0H352.1V422.6H351.2V423.2H350.4V437.6H349.6V437.0H348.9V431.4H348.2V429.5H347.4V428.9H346.5V428.2H345.6V400.1H344.9V412.0H344.2V437.0H343.6V452.0H342.9V451.4H342.2V437.0H341.6V436.4H340.9V415.1H340.1V414.5H339.4V408.9H338.6V415.1H337.9V410.8H337.1V418.9H336.4V419.5H335.8V423.9H335.2V424.5H334.5V439.5H333.8V438.2H333.2V412.0H332.4V412.0H331.6V418.2H330.8V419.5H330.0V437.0H329.2V451.8H328.6V437.0H327.9V434.5H327.1V419.5H326.4V407.0H325.6V400.1H324.9V431.4H324.1V432.0H323.4V460.5H322.6V432.0H321.9V419.5H321.1V408.2H320.2V418.2H319.4V428.9H318.7V428.2H318.1V407.0H317.4V406.4H316.6V424.9H315.8V423.9H314.9V414.5H314.1V402.6H313.5V413.2H312.9V418.2H312.1V419.2H311.2V414.5H310.4V412.0H309.6V406.4H308.6V407.0H307.7V418.2H306.9V425.8H306.2V427.6H305.4V426.4H304.6V398.9H303.9V398.2H303.1V399.5H302.1V403.2H301.1V407.0H300.2V410.8H299.3V424.5H298.5V423.2H297.7V407.0H296.8V405.8H295.8V405.1H294.8V413.2H293.9V412.0H293.1V404.5H292.2V400.5H291.2V400.8H290.4V405.1H289.5V405.8H288.5V408.2H287.6V407.0H286.8V395.1H285.9V403.9H284.9V404.5H284.1V414.5H283.3V413.9H282.6V402.6H281.9V413.2H281.0V413.0H280.1V402.6H279.4V402.0H278.5V402.6H277.5V403.9H276.5V404.8H275.5V405.1H274.6V404.5H273.6V402.0H272.6V410.5H271.8V406.4H271.1V400.8H270.2V400.5H269.2V400.1H268.2V399.5H267.2V400.8H266.2V398.2H265.2V393.2H264.2V393.9H263.3V400.5H262.6V397.0H261.8V393.2H260.9V392.6H259.8V393.0H258.5V392.6H257.2V393.0H256.1V393.9H255.0V395.5H254.0V393.5H252.9V392.0H251.6V390.1H250.4V388.9H249.1V387.6H247.9V386.4H246.6V385.8H244.5V385.8H242.5V385.8H241.5V385.8H240.5V385.8H239.5V385.8H238.5V385.8H237.5V385.8H236.5V385.8H235.5V385.8H234.5V385.8H233.5V385.8H232.5V385.8H231.5V385.8H230.5V385.8H229.5V385.8H228.5V385.8H227.5V385.8H226.5V385.8H225.5V385.8H224.5V385.8H223.5V385.8H222.5V385.8H221.5V385.8H220.5V385.8H219.5V385.8H218.5V385.8H217.5V385.8H216.5V385.8H215.5V385.8H214.5V385.8H213.5V385.8H212.5V385.8H211.5V385.8H210.5V385.8H209.5V385.8H208.5V385.8H207.5V385.8H206.5V385.8H205.5V385.8H204.5V385.8H203.5V385.8H202.5V385.8H201.5V385.8H200.5V385.8H199.5V385.8H198.5V385.8H197.5V385.8H196.5V385.8H195.5V385.8H194.5V385.8H193.5V385.8H192.5V385.8H191.5V385.8H190.5V385.8H189.5V385.8H188.5V385.8H187.5V385.8H186.5V385.8H185.5V385.8H184.5V385.8H183.5V385.8H182.5V385.8H181.5V385.8H180.5V385.8H179.5V385.8H178.5V385.8H177.5V385.8H176.5V385.8H175.5V385.8H174.5V385.8H173.5V385.8H172.5V385.8H171.5V385.8H170.5V385.8H169.5V385.8H168.5V385.8H167.5V385.8H166.5V385.8H165.5V385.8H164.5V385.8H163.5V385.8H162.5V385.8H161.5V385.8H160.5V385.8H159.5V385.8H158.5V385.8H157.5V385.8H156.5V385.8H155.5V385.8H154.5V385.8H153.5V385.8H152.5V385.8H151.5V385.8H150.5V385.8H149.5V385.8H148.5V385.8H147.5V385.8H146.5V385.8H145.5V385.8H144.5V385.8H143.5V385.8H142.5V385.8H141.5V385.8H140.5V385.8H139.5V385.8H138.5V385.8H137.5V385.8H136.5V385.8H135.5V385.8H134.5V385.8H133.5V385.8H132.5V385.8H131.5V385.8H130.5V385.8H129.5V385.8H128.5V385.8H127.5V385.8H126.5V385.8H125.5V385.8H124.5V385.8H123.5V385.8H122.5V385.8H121.5V385.8H120.5V385.8H119.5V385.8H118.5V385.8H117.5V385.8H116.5V385.8H115.5V385.8H114.5V385.8H113.5V385.8H112.5V385.8H111.5V385.8H110.5V385.8H109.5V385.8H108.5V385.8H107.5V385.8H106.5V385.8H105.5V385.8H104.5V385.8H103.5V385.8H102.5V385.8H101.5V385.8H100.5V385.8H99.5V385.8H98.5V385.8H97.5V385.8H96.5V385.8H95.5V385.8H94.5V385.8H93.5V385.8H92.5V385.8H91.5V385.8H90.5V385.8H89.5V385.8H88.5V385.8H87.5V385.8H86.5V385.8H85.5V385.8H84.5V385.8H83.5V385.8H82.5V385.8H81.5V385.8H80.5Z" fill="#4c4c4c" stroke="#4c4c4c" stroke-width="0.4" stroke-linejoin="round"/>
<line x1="75.6" x2="80.5" y1="309.5" y2="309.5" stroke="#4a4a4a" stroke-width="1"/>
<text x="69.9" y="314.0" text-anchor="end" textLength="25" lengthAdjust="spacingAndGlyphs">0.30</text>
<line x1="75.6" x2="80.5" y1="347.5" y2="347.5" stroke="#4a4a4a" stroke-width="1"/>
<text x="69.9" y="352.0" text-anchor="end" textLength="25" lengthAdjust="spacingAndGlyphs">0.15</text>
<line x1="75.6" x2="80.5" y1="385.5" y2="385.5" stroke="#4a4a4a" stroke-width="1"/>
<text x="69.9" y="390.0" text-anchor="end" textLength="25" lengthAdjust="spacingAndGlyphs">0.00</text>
<line x1="75.6" x2="80.5" y1="423.5" y2="423.5" stroke="#4a4a4a" stroke-width="1"/>
<text x="69.9" y="428.0" text-anchor="end" textLength="35" lengthAdjust="spacingAndGlyphs">−0.15</text>
<line x1="75.6" x2="80.5" y1="461.5" y2="461.5" stroke="#4a4a4a" stroke-width="1"/>
<text x="69.9" y="466.0" text-anchor="end" textLength="35" lengthAdjust="spacingAndGlyphs">−0.30</text>
<rect x="89.9" y="283.8" width="87.8" height="20.4" rx="3.3" fill="#fff" stroke="#6e6e6e" stroke-width="1.35"/>
<text x="94.0" y="298.1" style="font-size:11.5px">C1.A22F..HNN</text>
<g class="wm" transform="translate(0,437.5)" fill="#f8f8f8" stroke="#f8f8f8">
<text class="wmb" x="455" y="203.5" textLength="90" lengthAdjust="spacingAndGlyphs" stroke="none">csn</text>
<path d="M545 204L563 126L566 126L581 205L574 205L564.5 150L552 204Z" stroke="none"/>
<path d="M579 203L588 160L594 192L600 158L606 185" fill="none" stroke-width="1.4"/>
<path d="M477 237L481 231L485 243L490 214L495 252L500 212" fill="none" stroke-width="1.2"/>
<path d="M497 210L511 270L514 270L528 206L521 206L512.5 250L504 210Z" stroke="none"/>
<text class="wmt" x="532.5" y="229.8" textLength="222" lengthAdjust="spacingAndGlyphs" stroke="none">CENTRO SISMOLÓGICO NACIONAL</text>
<text class="wmt" x="529" y="248.2" textLength="150" lengthAdjust="spacingAndGlyphs" stroke="none">UNIVERSIDAD DE CHILE</text>
</g>
<path d="M80.5 609.9V609.0H81.5V609.0H82.5V609.0H83.5V609.0H84.5V609.0H85.5V609.0H86.5V609.0H87.5V609.0H88.5V609.0H89.5V609.0H90.5V609.0H91.5V609.0H92.5V609.0H93.5V609.0H94.5V609.0H95.5V609.0H96.5V609.0H97.5V609.0H98.5V609.0H99.5V609.0H100.5V609.0H101.5V609.0H102.5V609.0H103.5V609.0H104.5V609.0H105.5V609.0H106.5V609.0H107.5V609.0H108.5V609.0H109.5V609.0H110.5V609.0H111.5V609.0H112.5V609.0H113.5V609.0H114.5V609.0H115.5V609.0H116.5V609.0H117.5V609.0H118.5V609.0H119.5V609.0H120.5V609.0H121.5V609.0H122.5V609.0H123.5V609.0H124.5V609.0H125.5V609.0H126.5V609.0H127.5V609.0H128.5V609.0H129.5V609.0H130.5V609.0H131.5V609.0H132.5V609.0H133.5V609.0H134.5V609.0H135.5V609.0H136.5V609.0H137.5V609.0H138.5V609.0H139.5V609.0H140.5V609.0H141.5V609.0H142.5V609.0H143.5V609.0H144.5V609.0H145.5V609.0H146.5V609.0H147.5V609.0H148.5V609.0H149.5V609.0H150.5V609.0H151.5V609.0H152.5V609.0H153.5V609.0H154.5V609.0H155.5V609.0H156.5V609.0H157.5V609.0H158.5V609.0H159.5V609.0H160.5V609.0H161.5V609.0H162.5V609.0H163.5V609.0H164.5V609.0H165.5V609.0H166.5V609.0H167.5V609.0H168.5V609.0H169.5V609.0H170.5V609.0H171.5V609.0H172.5V609.0H173.5V609.0H174.5V609.0H175.5V609.0H176.5V609.0H177.5V609.0H178.5V609.0H179.5V609.0H180.5V609.0H181.5V609.0H182.5V609.0H183.5V609.0H184.5V609.0H185.5V609.0H186.5V609.0H187.5V609.0H188.5V609.0H189.5V609.0H190.5V609.0H191.5V609.0H192.5V609.0H193.5V609.0H194.5V609.0H195.5V609.0H196.5V609.0H197.5V609.0H198.5V609.0H199.5V609.0H200.5V609.0H201.5V609.0H202.5V609.0H203.5V609.0H204.5V609.0H205.5V609.0H206.5V609.0H207.5V609.0H208.5V609.0H209.5V609.0H210.5V609.0H211.5V609.0H212.5V609.0H213.5V609.0H214.5V609.0H215.5V609.0H216.5V609.0H217.5V609.0H218.5V609.0H219.5V609.0H220.5V609.0H221.5V609.0H222.5V609.0H223.5V609.0H224.5V609.0H225.5V609.0H226.5V609.0H227.5V609.0H228.5V609.0H229.5V609.0H230.5V609.0H231.5V609.0H232.5V609.0H233.5V609.0H234.5V609.0H235.5V609.0H236.5V609.0H237.5V609.0H238.5V609.0H239.5V609.0H240.5V609.0H241.5V609.0H242.5V609.0H243.7V609.4H244.9V608.1H246.0V606.2H247.2V604.4H248.5V599.5H249.5V599.0H250.4V599.5H251.3V602.1H252.3V598.3H253.2V597.8H254.1V602.8H255.0V601.3H255.9V601.6H256.8V600.6H257.7V596.0H258.6V595.5H259.5V600.1H260.5V599.8H261.4V592.2H262.3V588.9H263.2V588.4H264.1V593.7H265.0V595.2H265.9V596.0H266.8V594.9H267.8V586.1H268.7V580.8H269.5V580.0H270.3V583.1H271.2V586.1H272.2V586.9H273.1V585.4H274.0V585.8H274.9V585.4H275.8V584.6H276.7V583.8H277.6V585.4H278.5V580.8H279.4V580.0H280.2V581.3H281.1V581.6H282.0V584.9H282.9V585.4H283.9V584.9H284.7V569.4H285.5V568.6H286.3V576.2H287.2V576.7H288.1V585.4H288.9V593.0H289.7V567.9H290.5V567.1H291.5V577.8H292.3V589.2H293.0V586.1H293.9V586.4H294.7V591.4H295.6V582.3H296.5V581.3H297.4V574.0H298.3V573.5H299.2V586.1H300.1V586.9H300.9V595.2H301.5V542.8H302.1V542.4H302.8V555.0H303.8V561.1H304.7V561.5H305.5V609.7H306.3V595.2H307.3V580.0H308.1V579.3H308.9V555.0H309.6V554.2H310.4V592.2H311.1V607.4H311.9V539.0H312.7V538.3H313.6V595.2H314.5V556.5H315.5V555.7H316.4V596.8H317.2V597.5H318.0V551.9H318.8V551.2H319.7V537.8H320.6V537.2H321.5V593.0H322.2V593.7H323.0V582.3H323.7V581.9H324.3V593.0H325.0V546.6H325.7V541.3H326.4V503.3H327.0V502.9H327.7V524.6H328.4V525.3H329.1V561.1H329.8V561.5H330.6V574.7H331.4V575.2H332.3V573.2H333.2V572.4H334.1V572.1H335.1V572.7H335.9V539.0H336.7V538.3H337.6V558.8H338.3V570.9H339.1V571.7H339.8V558.5H340.6V558.0H341.4V581.6H342.2V564.8H343.1V564.1H344.0V563.6H344.9V545.1H345.6V544.8H346.5V546.6H347.4V550.4H348.3V551.2H349.2V570.9H350.1V571.7H350.9V517.8H351.5V508.6H352.1V508.3H352.8V518.5H353.4V519.3H354.1V599.8H354.7V574.0H355.5V572.4H356.2V521.5H356.9V520.8H357.6V592.2H358.4V592.2H359.1V568.6H359.8V568.2H360.7V577.8H361.4V577.0H362.2V553.5H363.0V553.0H363.9V552.7H364.8V552.4H365.5V561.8H366.3V562.6H367.0V586.9H367.8V562.6H368.6V561.8H369.3V539.8H370.1V539.3H370.8V567.9H371.7V568.2H372.5V577.8H373.3V577.0H374.0V554.2H374.8V553.8H375.6V564.8H376.3V569.4H377.1V564.5H377.8V564.1H378.7V562.6H379.6V562.1H380.4V563.3H381.2V578.5H382.0V570.2H382.9V569.7H383.8V571.7H384.7V569.4H385.5V569.0H386.3V586.1H387.1V586.9H387.9V589.9H388.6V568.6H389.5V568.2H390.3V580.0H391.1V580.8H392.0V586.9H392.9V587.3H393.9V587.6H394.8V580.0H395.7V579.7H396.6V580.8H397.5V581.3H398.3V580.8H399.1V592.2H399.9V579.3H400.5V579.0H401.2V593.0H401.8V578.2H402.7V577.8H403.5V588.4H404.3V589.2H405.1V595.2H406.0V598.3H406.9V583.1H407.8V582.8H408.7V590.7H409.4V591.0H410.3V590.7H411.1V578.5H411.9V577.5H412.6V578.1H413.4V595.2H414.1V580.0H414.9V579.6H415.7V593.0H416.4V597.5H417.3V593.0H418.1V589.9H418.9V589.5H419.6V593.0H420.4V597.5H421.2V593.0H422.0V587.6H422.8V584.6H423.6V584.1H424.3V585.4H425.1V594.5H425.8V595.2H426.6V583.1H427.4V582.6H428.1V583.8H428.9V598.3H429.7V586.1H430.6V585.7H431.5V588.4H432.4V588.9H433.4V587.9H434.3V589.2H435.2V590.7H436.1V591.0H437.0V595.2H437.9V596.0H438.8V596.5H439.7V596.0H440.7V595.7H441.6V596.5H442.5V599.8H443.4V600.6H444.3V593.4H445.2V593.1H446.1V594.0H447.0V593.7H447.9V594.5H448.9V603.6H449.8V601.3H450.7V599.8H451.6V599.0H452.5V595.2H453.4V593.7H454.3V593.3H455.4V593.7H456.4V594.4H457.1V597.5H457.9V598.1H458.6V598.8H459.4V599.4H460.1V600.0H460.9V600.6H461.6V599.4H462.4V599.0H463.1V601.9H463.9V602.5H464.6V603.1H465.4V601.9H466.1V593.8H466.9V593.4H467.6V601.9H468.4V602.2H469.1V604.4H469.9V603.1H470.6V601.2H471.4V600.6H472.1V597.5H472.9V597.2H473.6V601.2H474.4V601.9H475.1V599.4H475.9V599.0H476.6V601.9H477.4V603.1H478.1V603.8H478.9V604.4H479.6V602.5H480.4V596.9H481.1V596.2H481.9V596.5H482.6V603.1H483.4V603.5H484.1V603.1H484.9V600.6H485.6V600.0H486.4V606.9H487.1V607.5H487.9V595.0H488.6V594.4H489.4V605.0H490.1V605.6H490.9V600.6H491.6V600.0H492.4V601.2H493.1V603.8H493.9V596.9H494.6V596.5H495.4V594.8H496.1V594.4H496.9V597.5H497.6V607.5H498.4V608.1H499.1V602.5H499.9V596.2H500.6V595.9H501.4V596.2H502.1V603.8H502.9V605.0H503.6V605.6H504.4V605.0H505.1V604.8H505.9V605.0H506.6V600.0H507.4V599.4H508.1V599.0H508.9V600.6H509.6V604.4H510.4V606.9H511.1V607.2H511.9V601.9H512.6V601.5H513.4V603.1H514.1V605.0H514.9V600.6H515.6V600.2H516.4V604.4H517.1V605.0H517.9V601.9H518.6V601.2H519.4V603.8H520.1V605.0H520.9V604.4H521.6V600.6H522.4V600.2H523.1V605.6H523.9V606.0H524.6V600.6H525.4V600.2H526.1V601.2H526.9V606.2H527.6V606.9H528.4V606.2H529.1V605.6H529.9V605.0H530.6V600.6H531.4V600.2H532.1V601.9H532.9V608.1H533.6V608.5H534.4V598.8H535.1V598.4H535.9V603.8H536.6V605.0H537.4V605.6H538.1V601.9H538.9V601.2H539.6V601.5H540.4V601.9H541.1V605.6H541.9V606.2H542.6V606.0H543.4V605.6H544.1V603.1H544.9V602.5H545.6V603.5H546.4V606.0H547.1V600.0H547.9V599.4H548.6V605.0H549.4V606.2H550.1V606.9H550.9V606.5H551.6V603.8H552.4V603.5H553.1V604.4H553.9V605.0H554.6V604.4H555.5V604.8H556.8V608.1H558.0V606.2H559.0V603.6H560.0V607.9H561.0V606.0H562.0V606.2H563.0V608.3H564.0V608.3H565.0V605.9H566.0V604.1H567.0V603.4H568.0V607.4H569.0V604.8H570.0V605.3H571.0V605.6H572.0V608.3H573.0V605.4H574.0V603.3H575.0V608.1H576.0V605.7H577.0V603.0H578.0V609.6H579.0V609.7H580.0V604.9H581.0V605.3H582.0V607.0H583.0V605.1H584.0V608.4H585.0V609.5H586.0V608.1H587.0V603.6H588.0V605.8H589.0V607.9H590.0V607.8H591.0V604.1H592.0V603.9H593.0V605.6H594.0V609.6H595.0V607.3H596.0V608.2H597.0V603.5H598.0V604.9H599.0V608.0H600.0V607.8H601.0V607.7H602.0V607.4H603.0V608.3H604.0V605.7H605.0V603.7H606.0V609.7H607.0V607.6H608.0V606.3H609.0V608.7H610.0V607.5H611.0V606.5H612.0V607.5H613.0V608.8H614.0V605.2H615.0V606.3H616.0V607.5H617.0V609.5H618.0V609.1H619.0V606.1H620.0V606.0H621.0V610.0H622.0V608.5H623.0V609.3H624.0V607.8H625.0V605.4H626.0V606.8H627.0V608.0H628.0V609.3H629.0V608.5H630.0V607.0H631.0V607.1H632.0V606.5H633.0V609.2H634.0V605.4H635.0V606.1H636.0V608.4H637.0V608.2H638.0V608.4H639.0V609.5H640.0V610.2H641.0V606.3H642.0V606.3H643.0V609.2H644.0V608.7H645.0V608.0H646.0V608.5H647.0V609.1H648.0V607.4H649.0V606.5H650.0V609.5H651.0V608.1H652.0V606.3H653.0V606.5H654.0V610.1H655.0V609.5H656.0V605.0H657.0V606.8H658.0V608.7H659.0V607.7H660.0V609.8H661.0V610.0H662.0V609.3H663.0V606.8H664.0V607.2H665.0V609.4H666.0V608.5H667.0V609.2H668.0V606.9H669.0V609.2H670.0V609.0H671.0V608.0H672.0V609.1H673.0V609.2H674.0V608.5H675.0V607.9H676.0V609.7H677.0V609.1H678.0V606.6H679.0V609.4H680.0V609.8H681.0V609.1H682.0V608.5H683.0V608.0H684.0V609.3H685.0V607.2H686.0V607.1H687.0V608.6H688.0V610.6H689.0V608.6H690.0V607.4H691.0V608.2H692.0V607.5H693.0V608.3H694.0V610.6H695.0V609.1H696.0V607.6H697.0V608.1H698.0V608.9H699.0V606.7H700.0V607.3H701.0V608.0H702.0V609.1H703.0V610.4H704.0V609.7H705.0V606.9H706.0V607.8H707.0V607.6H708.0V608.2H709.0V609.0H710.0V608.7H711.0V609.5H712.0V608.7H713.0V608.3H714.0V607.6H715.0V608.8H716.0V609.4H717.0V608.4H718.0V609.8H719.0V608.9H720.0V607.4H721.0V607.8H722.0V609.0H723.0V609.1H724.0V608.1H725.0V609.8H726.0V608.6H727.0V608.2H728.0V608.5H729.0V608.1H730.0V609.6H731.0V609.7H732.0V608.9H733.0V609.0H734.0V608.8H735.0V608.1H736.0V607.4H737.0V609.7H738.0V609.5H739.0V608.6H740.0V609.6H741.0V609.1H742.0V608.2H743.0V607.6H744.0V608.3H745.0V609.8H746.0V609.3H747.0V609.0H748.0V608.7H749.0V608.8H750.0V607.8H751.0V608.4H752.0V610.1H753.0V608.2H754.0V607.5H755.0V610.1H756.0V609.7H757.0V607.4H758.0V607.4H759.0V609.4H760.5V609.9V611.9H759.0V610.4H758.0V610.0H757.0V611.8H756.0V612.2H755.0V610.3H754.0V610.3H753.0V612.2H752.0V610.5H751.0V609.9H750.0V610.9H749.0V610.9H748.0V611.1H747.0V611.7H746.0V612.2H745.0V610.4H744.0V609.7H743.0V610.9H742.0V611.2H741.0V612.0H740.0V610.7H739.0V612.1H738.0V612.5H737.0V609.8H736.0V610.2H735.0V610.9H734.0V611.3H733.0V611.3H732.0V611.8H731.0V612.5H730.0V610.2H729.0V610.7H728.0V610.3H727.0V610.8H726.0V611.9H725.0V611.0H724.0V611.2H723.0V611.1H722.0V610.8H721.0V610.1H720.0V611.7H719.0V612.4H718.0V610.6H717.0V611.9H716.0V611.1H715.0V609.7H714.0V610.7H713.0V611.1H712.0V611.6H711.0V611.3H710.0V611.1H709.0V611.1H708.0V610.4H707.0V610.7H706.0V609.9H705.0V612.1H704.0V612.5H703.0V612.0H702.0V611.2H701.0V609.6H700.0V609.8H699.0V612.6H698.0V611.5H697.0V610.6H696.0V611.5H695.0V612.7H694.0V610.4H693.0V609.8H692.0V612.0H691.0V609.5H690.0V611.8H689.0V612.7H688.0V611.9H687.0V610.0H686.0V609.9H685.0V611.4H684.0V610.4H683.0V610.7H682.0V611.2H681.0V613.4H680.0V611.6H679.0V609.3H678.0V611.4H677.0V611.8H676.0V610.2H675.0V610.6H674.0V611.4H673.0V611.2H672.0V610.3H671.0V612.0H670.0V611.3H669.0V609.5H668.0V611.7H667.0V611.5H666.0V613.0H665.0V610.4H664.0V609.3H663.0V612.3H662.0V613.4H661.0V612.3H660.0V609.9H659.0V610.8H658.0V610.4H657.0V608.9H656.0V614.8H655.0V613.5H654.0V611.5H653.0V610.7H652.0V611.3H651.0V613.6H650.0V611.2H649.0V609.8H648.0V611.6H647.0V612.9H646.0V612.2H645.0V613.9H644.0V612.8H643.0V609.2H642.0V609.3H641.0V613.5H640.0V613.3H639.0V612.3H638.0V612.7H637.0V613.2H636.0V609.8H635.0V611.4H634.0V613.1H633.0V611.8H632.0V613.4H631.0V611.2H630.0V611.4H629.0V613.4H628.0V611.2H627.0V610.4H626.0V611.4H625.0V612.4H624.0V612.3H623.0V614.4H622.0V613.0H621.0V609.2H620.0V611.4H619.0V614.4H618.0V613.1H617.0V612.5H616.0V610.2H615.0V610.7H614.0V612.4H613.0V612.5H612.0V612.2H611.0V612.2H610.0V612.3H609.0V611.3H608.0V612.8H607.0V614.9H606.0V610.1H605.0V610.5H604.0V614.6H603.0V613.3H602.0V612.3H601.0V614.5H600.0V612.7H599.0V609.5H598.0V612.3H597.0V614.1H596.0V614.8H595.0V615.2H594.0V613.6H593.0V611.7H592.0V611.4H591.0V615.0H590.0V613.7H589.0V611.0H588.0V612.0H587.0V613.6H586.0V615.1H585.0V613.1H584.0V612.4H583.0V612.0H582.0V612.7H581.0V611.6H580.0V615.1H579.0V617.7H578.0V614.7H577.0V612.6H576.0V613.1H575.0V611.6H574.0V616.7H573.0V615.6H572.0V611.6H571.0V617.5H570.0V614.0H569.0V615.9H568.0V613.2H567.0V613.7H566.0V613.7H565.0V619.3H564.0V617.1H563.0V612.3H562.0V613.1H561.0V613.7H560.0V611.2H559.0V616.7H558.0V616.8H556.8V614.8H555.5V615.0H554.6V614.4H553.9V612.5H553.1V615.2H552.4V615.6H551.6V615.0H550.9V615.6H550.1V616.2H549.4V616.5H548.6V616.2H547.9V615.0H547.1V614.8H546.4V614.4H545.6V615.0H544.9V616.9H544.1V618.1H543.4V617.5H542.6V615.0H541.9V614.8H541.1V615.0H540.4V615.6H539.6V616.0H538.9V616.2H538.1V615.6H537.4V616.2H536.6V616.9H535.9V617.5H535.1V618.5H534.4V618.8H533.6V618.1H532.9V616.9H532.1V615.0H531.4V615.6H530.6V616.2H529.9V617.5H529.1V618.1H528.4V617.5H527.6V617.2H526.9V616.9H526.1V617.5H525.4V618.8H524.6V622.8H523.9V621.9H523.1V617.5H522.4V616.9H521.6V617.5H520.9V618.1H520.1V617.5H519.4V616.9H518.6V617.5H517.9V621.5H517.1V620.6H516.4V615.6H515.6V616.2H514.9V617.2H514.1V616.9H513.4V616.2H512.6V616.9H511.9V617.5H511.1V620.0H510.4V619.4H509.6V616.2H508.9V612.5H508.1V616.2H507.4V616.9H506.6V617.5H505.9V619.4H505.1V620.0H504.4V619.4H503.6V618.1H502.9V617.5H502.1V617.2H501.4V616.9H500.6V617.2H499.9V617.5H499.1V618.1H498.4V622.5H497.6V621.9H496.9V618.1H496.1V617.5H495.4V618.1H494.6V618.8H493.9V622.8H493.1V623.1H492.4V622.5H491.6V618.1H490.9V617.5H490.1V613.1H489.4V613.8H488.6V617.5H487.9V621.5H487.1V621.9H486.4V621.2H485.6V617.5H484.9V618.8H484.1V625.0H483.4V623.8H482.6V613.1H481.9V613.8H481.1V616.2H480.4V617.5H479.6V625.0H478.9V629.4H478.1V629.0H477.4V625.0H476.6V620.0H475.9V616.2H475.1V616.9H474.4V617.5H473.6V618.1H472.9V618.8H472.1V622.2H471.4V621.9H470.6V621.2H469.9V621.9H469.1V622.5H468.4V626.9H467.6V626.2H466.9V622.5H466.1V620.6H465.4V620.0H464.6V619.4H463.9V618.1H463.1V618.8H462.4V619.4H461.6V620.0H460.9V624.4H460.1V623.8H459.4V621.2H458.6V621.9H457.9V625.6H457.1V626.2H456.4V626.3H455.7V625.9H455.0V620.4H454.2V619.7H453.4V624.6H452.6V623.9H451.8V617.0H451.1V623.9H450.4V623.6H449.5V622.8H448.7V623.2H447.9V622.5H447.1V620.4H446.2V619.7H445.4V619.1H444.6V625.2H443.8V626.6H443.0V629.4H442.3V628.7H441.6V617.7H440.9V626.6H440.2V627.3H439.4V626.9H438.5V626.6H437.7V625.9H436.9V622.5H436.1V620.4H435.2V622.5H434.4V627.7H433.6V628.0H432.8V627.3H431.9V625.2H431.1V623.9H430.3V620.4H429.5V630.5H428.8V630.1H428.2V628.0H427.5V632.1H426.8V637.3H426.1V636.9H425.4V635.6H424.7V630.7H424.0V618.4H423.3V614.9H422.7V618.4H422.0V630.5H421.2V630.7H420.4V630.1H419.6V622.5H418.9V632.8H418.2V646.6H417.4V645.9H416.7V632.1H416.0V630.7H415.2V626.6H414.4V622.5H413.7V634.6H413.0V634.9H412.1V634.5H411.3V634.6H410.5V634.2H409.7V630.7H408.9V621.1H408.2V632.1H407.5V632.8H406.6V633.5H405.8V634.2H405.0V636.2H404.2V636.5H403.5V635.6H402.9V629.4H402.2V630.1H401.4V636.0H400.6V635.6H399.8V632.8H398.9V630.7H398.1V631.4H397.4V641.1H396.7V641.7H396.0V645.2H395.3V644.5H394.6V632.8H393.9V639.7H393.2V640.4H392.5V663.1H391.9V662.6H391.2V639.0H390.5V626.6H389.8V638.3H389.1V643.4H388.4V643.1H387.7V623.2H387.0V643.1H386.3V658.7H385.5V658.2H384.8V647.9H384.2V646.6H383.5V647.2H382.8V655.8H382.1V655.5H381.4V646.6H380.7V645.9H380.0V647.2H379.3V665.1H378.7V664.8H378.0V646.6H377.2V646.6H376.4V645.9H375.6V647.2H374.9V663.1H374.3V663.7H373.6V694.4H372.9V694.0H372.4V674.7H371.8V650.0H371.1V647.2H370.4V641.7H369.7V639.0H369.0V650.0H368.3V651.4H367.7V658.0H367.0V657.6H366.3V658.2H365.6V678.2H364.9V677.8H364.3V661.0H363.7V630.7H363.0V649.7H362.3V650.0H361.6V658.0H360.9V657.6H360.2V661.0H359.5V692.3H358.9V691.9H358.2V661.0H357.6V636.2H357.0V659.6H356.4V661.0H355.7V672.0H355.0V679.6H354.3V678.9H353.6V661.0H352.9V641.7H352.3V672.0H351.7V700.9H351.1V700.6H350.5V688.5H349.8V672.0H349.1V658.2H348.4V655.5H347.7V622.5H347.0V630.1H346.3V631.4H345.6V632.1H344.8V654.1H343.9V663.7H343.1V666.5H342.3V678.9H341.5V667.9H340.6V682.3H339.9V681.9H339.3V674.7H338.6V665.1H337.7V633.5H337.0V661.0H336.2V678.2H335.4V677.5H334.6V663.7H333.8V647.2H333.0V654.8H332.3V654.1H331.6V636.2H330.8V654.1H330.0V670.3H329.3V669.9H328.5V661.0H327.7V625.2H327.0V633.5H326.3V661.0H325.5V683.4H324.8V683.0H324.1V667.9H323.4V649.3H322.7V648.6H322.0V640.1H321.2V640.4H320.4V641.7H319.6V651.4H318.8V658.2H318.0V658.0H317.3V652.7H316.4V640.4H315.6V638.7H314.8V638.3H314.0V623.9H313.2V633.5H312.5V667.9H311.8V685.7H311.0V685.5H310.3V674.7H309.6V624.6H308.8V625.2H308.1V647.2H307.4V670.3H306.6V669.9H305.8V661.0H305.1V647.2H304.3V623.2H303.5V622.5H302.7V618.4H302.0V647.2H301.3V670.3H300.6V669.9H299.9V647.2H299.1V638.3H298.3V637.9H297.5V637.6H296.6V638.3H295.9V648.3H295.2V647.9H294.4V631.4H293.6V632.1H292.8V640.8H292.0V640.4H291.3V632.1H290.6V632.8H289.8V647.0H289.0V646.6H288.3V634.2H287.6V633.5H286.8V621.1H286.1V645.9H285.4V647.2H284.5V647.0H283.7V645.9H282.9V633.5H282.1V630.7H281.2V626.6H280.4V631.4H279.6V630.7H278.8V631.4H277.9V634.5H277.1V634.2H276.3V632.8H275.5V628.7H274.6V631.8H273.7V632.1H272.6V631.4H271.5V631.8H270.4V631.4H269.3V630.7H268.2V631.2H267.1V629.6H266.0V630.5H264.9V629.1H263.8V628.0H262.7V625.9H261.6V624.6H260.5V623.6H259.4V622.5H258.3V621.1H257.2V619.7H256.1V618.1H255.1V619.1H254.3V617.7H253.5V619.7H252.6V617.7H251.7V616.7H250.4V616.3H249.1V615.6H247.7V614.2H246.3V612.2H244.9V610.4H243.6V610.8H242.5V610.8H241.5V610.8H240.5V610.8H239.5V610.8H238.5V610.8H237.5V610.8H236.5V610.8H235.5V610.8H234.5V610.8H233.5V610.8H232.5V610.8H231.5V610.8H230.5V610.8H229.5V610.8H228.5V610.8H227.5V610.8H226.5V610.8H225.5V610.8H224.5V610.8H223.5V610.8H222.5V610.8H221.5V610.8H220.5V610.8H219.5V610.8H218.5V610.8H217.5V610.8H216.5V610.8H215.5V610.8H214.5V610.8H213.5V610.8H212.5V610.8H211.5V610.8H210.5V610.8H209.5V610.8H208.5V610.8H207.5V610.8H206.5V610.8H205.5V610.8H204.5V610.8H203.5V610.8H202.5V610.8H201.5V610.8H200.5V610.8H199.5V610.8H198.5V610.8H197.5V610.8H196.5V610.8H195.5V610.8H194.5V610.8H193.5V610.8H192.5V610.8H191.5V610.8H190.5V610.8H189.5V610.8H188.5V610.8H187.5V610.8H186.5V610.8H185.5V610.8H184.5V610.8H183.5V610.8H182.5V610.8H181.5V610.8H180.5V610.8H179.5V610.8H178.5V610.8H177.5V610.8H176.5V610.8H175.5V610.8H174.5V610.8H173.5V610.8H172.5V610.8H171.5V610.8H170.5V610.8H169.5V610.8H168.5V610.8H167.5V610.8H166.5V610.8H165.5V610.8H164.5V610.8H163.5V610.8H162.5V610.8H161.5V610.8H160.5V610.8H159.5V610.8H158.5V610.8H157.5V610.8H156.5V610.8H155.5V610.8H154.5V610.8H153.5V610.8H152.5V610.8H151.5V610.8H150.5V610.8H149.5V610.8H148.5V610.8H147.5V610.8H146.5V610.8H145.5V610.8H144.5V610.8H143.5V610.8H142.5V610.8H141.5V610.8H140.5V610.8H139.5V610.8H138.5V610.8H137.5V610.8H136.5V610.8H135.5V610.8H134.5V610.8H133.5V610.8H132.5V610.8H131.5V610.8H130.5V610.8H129.5V610.8H128.5V610.8H127.5V610.8H126.5V610.8H125.5V610.8H124.5V610.8H123.5V610.8H122.5V610.8H121.5V610.8H120.5V610.8H119.5V610.8H118.5V610.8H117.5V610.8H116.5V610.8H115.5V610.8H114.5V610.8H113.5V610.8H112.5V610.8H111.5V610.8H110.5V610.8H109.5V610.8H108.5V610.8H107.5V610.8H106.5V610.8H105.5V610.8H104.5V610.8H103.5V610.8H102.5V610.8H101.5V610.8H100.5V610.8H99.5V610.8H98.5V610.8H97.5V610.8H96.5V610.8H95.5V610.8H94.5V610.8H93.5V610.8H92.5V610.8H91.5V610.8H90.5V610.8H89.5V610.8H88.5V610.8H87.5V610.8H86.5V610.8H85.5V610.8H84.5V610.8H83.5V610.8H82.5V610.8H81.5V610.8H80.5Z" fill="#4c4c4c" stroke="#4c4c4c" stroke-width="0.4" stroke-linejoin="round"/>
<line x1="75.6" x2="80.5" y1="496.5" y2="496.5" stroke="#4a4a4a" stroke-width="1"/>
<text x="69.9" y="501.0" text-anchor="end" textLength="25" lengthAdjust="spacingAndGlyphs">0.45</text>
<line x1="75.6" x2="80.5" y1="534.5" y2="534.5" stroke="#4a4a4a" stroke-width="1"/>
<text x="69.9" y="539.0" text-anchor="end" textLength="25" lengthAdjust="spacingAndGlyphs">0.30</text>
<line x1="75.6" x2="80.5" y1="572.5" y2="572.5" stroke="#4a4a4a" stroke-width="1"/>
<text x="69.9" y="577.0" text-anchor="end" textLength="25" lengthAdjust="spacingAndGlyphs">0.15</text>
<line x1="75.6" x2="80.5" y1="610.5" y2="610.5" stroke="#4a4a4a" stroke-width="1"/>
<text x="69.9" y="615.0" text-anchor="end" textLength="25" lengthAdjust="spacingAndGlyphs">0.00</text>
<line x1="75.6" x2="80.5" y1="648.5" y2="648.5" stroke="#4a4a4a" stroke-width="1"/>
<text x="69.9" y="653.0" text-anchor="end" textLength="35" lengthAdjust="spacingAndGlyphs">−0.15</text>
<line x1="75.6" x2="80.5" y1="686.5" y2="686.5" stroke="#4a4a4a" stroke-width="1"/>
<text x="69.9" y="691.0" text-anchor="end" textLength="35" lengthAdjust="spacingAndGlyphs">−0.30</text>
<rect x="89.9" y="499.8" width="86.5" height="20.4" rx="3.3" fill="#fff" stroke="#6e6e6e" stroke-width="1.35"/>
<text x="94.0" y="514.1" style="font-size:11.5px">C1.A22F..HNE</text>
<line x1="355.5" x2="355.5" y1="148.8" y2="158.8" stroke="#b8b8b8" stroke-width="0.7"/>
<line x1="352.4" x2="352.4" y1="602.5" y2="610.5" stroke="#b8b8b8" stroke-width="0.7"/>
<line x1="327.2" x2="327.2" y1="600.0" y2="603.0" stroke="#b8b8b8" stroke-width="0.7"/>
<rect x="80.5" y="60.5" width="680.0" height="217.0" fill="none" stroke="#4a4a4a" stroke-width="1.1"/>
<rect x="80.5" y="277.5" width="680.0" height="216.0" fill="none" stroke="#4a4a4a" stroke-width="1.1"/>
<rect x="80.5" y="493.5" width="680.0" height="217.0" fill="none" stroke="#4a4a4a" stroke-width="1.1"/>
<line x1="225.5" x2="225.5" y1="710.5" y2="715.4" stroke="#4a4a4a" stroke-width="1"/>
<text x="225.5" y="730" text-anchor="middle">2024-07-19T01:51:00</text>
<line x1="390.5" x2="390.5" y1="710.5" y2="715.4" stroke="#4a4a4a" stroke-width="1"/>
<text x="390.5" y="730" text-anchor="middle">01:52:00</text>
<line x1="554.5" x2="554.5" y1="710.5" y2="715.4" stroke="#4a4a4a" stroke-width="1"/>
<text x="554.5" y="730" text-anchor="middle">01:53:00</text>
<line x1="719.5" x2="719.5" y1="710.5" y2="715.4" stroke="#4a4a4a" stroke-width="1"/>
<text x="719.5" y="730" text-anchor="middle">01:54:00</text>
</svg></body></html>
